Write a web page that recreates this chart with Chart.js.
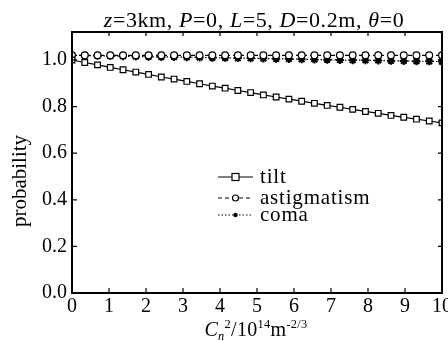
<!DOCTYPE html>
<html>
<head>
<meta charset="utf-8">
<script src="https://cdn.jsdelivr.net/npm/chart.js@4"></script>
<style>
  html, body { margin: 0; padding: 0; background: #fff; }
  #wrap { width: 448px; height: 341px; position: relative; }
</style>
</head>
<body>
<div id="wrap"><canvas id="c"></canvas></div>
<script>
// Cn^2 sample positions (10^-14 m^-2/3)
const xs = [0, 0.345, 0.69, 1.034, 1.379, 1.724, 2.069, 2.414, 2.759, 3.103,
    3.448, 3.793, 4.138, 4.483, 4.828, 5.172, 5.517, 5.862, 6.207, 6.552,
    6.897, 7.241, 7.586, 7.931, 8.276, 8.621, 8.966, 9.31, 9.655, 10];

const tilt = [1.000, 0.989, 0.979, 0.968, 0.958, 0.948, 0.938, 0.927, 0.918, 0.908,
    0.898, 0.888, 0.879, 0.869, 0.860, 0.850, 0.841, 0.832, 0.823, 0.814,
    0.805, 0.797, 0.788, 0.779, 0.771, 0.762, 0.754, 0.746, 0.738, 0.730];

const astigmatism = [1.020, 1.020, 1.020, 1.020, 1.020, 1.020, 1.020, 1.020, 1.020, 1.020,
    1.020, 1.020, 1.020, 1.020, 1.020, 1.020, 1.020, 1.020, 1.020, 1.020,
    1.020, 1.020, 1.020, 1.020, 1.020, 1.020, 1.020, 1.020, 1.020, 1.020];

const coma = [1.020, 1.019, 1.018, 1.017, 1.016, 1.015, 1.014, 1.013, 1.013, 1.012,
    1.011, 1.010, 1.009, 1.008, 1.007, 1.006, 1.005, 1.004, 1.003, 1.002,
    1.001, 1.000, 0.999, 0.999, 0.998, 0.997, 0.996, 0.995, 0.994, 0.993];

const xTicks = [0, 1, 2, 3, 4, 5, 6, 7, 8, 9, 10];
const yTicks = [0, 0.2, 0.4, 0.6, 0.8, 1.0];
const seriesNames = ['tilt', 'astigmatism', 'coma'];

const SERIF = "'Liberation Serif', 'DejaVu Serif', serif";
const pts = arr => arr.map((v, i) => ({ x: xs[i], y: v }));

// 제목, 축 제목, 안쪽 눈금, 범례를 직접 그림
const decor = {
    id: 'decor',
    afterDraw(chart) {
        const { ctx, chartArea: a, scales } = chart;
        ctx.save();
        ctx.fillStyle = '#000';
        ctx.strokeStyle = '#000';

        // frame
        ctx.lineWidth = 2;
        ctx.strokeRect(a.left, a.top, a.right - a.left, a.bottom - a.top);

        // inward ticks
        ctx.lineWidth = 1.2;
        ctx.beginPath();
        xTicks.forEach(v => {
            const px = scales.x.getPixelForValue(v);
            ctx.moveTo(px, a.bottom); ctx.lineTo(px, a.bottom - 5);
            ctx.moveTo(px, a.top); ctx.lineTo(px, a.top + 4);
        });
        yTicks.forEach(v => {
            const py = scales.y.getPixelForValue(v);
            ctx.moveTo(a.left, py); ctx.lineTo(a.left + 5, py);
            ctx.moveTo(a.right, py); ctx.lineTo(a.right - 4, py);
        });
        ctx.stroke();

        // mixed italic text runs
        const runs = (parts, size, cx, baseline, spacing) => {
            ctx.letterSpacing = spacing + 'px';
            let w = 0;
            parts.forEach(p => {
                const sz = p.s ? size * 0.62 : size;
                ctx.font = (p.i ? 'italic ' : '') + sz + 'px ' + SERIF;
                p.w = ctx.measureText(p.t).width;
                w += p.w;
            });
            let x = cx - w / 2;
            ctx.textAlign = 'left';
            ctx.textBaseline = 'alphabetic';
            parts.forEach(p => {
                const sz = p.s ? size * 0.62 : size;
                ctx.font = (p.i ? 'italic ' : '') + sz + 'px ' + SERIF;
                ctx.fillText(p.t, x, baseline + (p.s === 'up' ? -size * 0.42 : p.s === 'down' ? size * 0.2 : 0));
                x += p.w;
            });
            ctx.letterSpacing = '0px';
        };

        runs([
            { t: 'z', i: true }, { t: '=3km, ' }, { t: 'P', i: true }, { t: '=0, ' },
            { t: 'L', i: true }, { t: '=5, ' }, { t: 'D', i: true }, { t: '=0.2m, ' },
            { t: 'θ', i: true }, { t: '=0' }
        ], 22, 254, 27, 0.6);

        runs([
            { t: 'C', i: true }, { t: 'n', i: true, s: 'down' }, { t: '2', s: 'up' },
            { t: '/10' }, { t: '14', s: 'up' }, { t: 'm' }, { t: '-2/3', s: 'up' }
        ], 20, 256, 336, 0.3);

        // y title
        ctx.save();
        ctx.translate(20, 181);
        ctx.rotate(-Math.PI / 2);
        ctx.font = '21px ' + SERIF;
        ctx.textAlign = 'center';
        ctx.textBaseline = 'middle';
        ctx.fillText('probability', 0, 0);
        ctx.restore();

        // legend
        const rows = [177, 198, 215];
        chart.data.datasets.forEach((ds, i) => {
            const y = rows[i];
            ctx.lineWidth = 1.2;
            ctx.setLineDash(ds.borderDash || []);
            ctx.beginPath();
            ctx.moveTo(218, y); ctx.lineTo(253, y);
            ctx.stroke();
            ctx.setLineDash([]);
            ctx.fillStyle = '#fff';
            if (ds.pointStyle === 'rect') {
                ctx.fillRect(232, y - 3.5, 7, 7);
                ctx.strokeRect(232, y - 3.5, 7, 7);
            } else if (ds.pointStyle === 'circle') {
                ctx.beginPath(); ctx.arc(235.5, y, 3, 0, Math.PI * 2); ctx.fill(); ctx.stroke();
            } else {
                ctx.fillStyle = '#000';
                ctx.beginPath(); ctx.arc(235.5, y, 2.2, 0, Math.PI * 2); ctx.fill();
            }
            ctx.fillStyle = '#000';
            ctx.font = '21px ' + SERIF;
            ctx.letterSpacing = '0.8px';
            ctx.textAlign = 'left';
            ctx.textBaseline = 'middle';
            ctx.fillText(seriesNames[i], 260, y);
            ctx.letterSpacing = '0px';
        });
        ctx.restore();
    }
};

new Chart(document.getElementById('c'), {
    type: 'line',
    data: {
        datasets: [{
            label: seriesNames[0],
            data: pts(tilt),
            borderColor: '#000',
            borderWidth: 1.2,
            pointStyle: 'rect',
            pointRadius: 4,
            pointBackgroundColor: '#fff',
            pointBorderColor: '#000',
            pointBorderWidth: 1.2
        }, {
            label: seriesNames[1],
            data: pts(astigmatism),
            borderColor: '#000',
            borderWidth: 1.2,
            borderDash: [4, 3],
            pointStyle: 'circle',
            pointRadius: 3.4,
            pointBackgroundColor: '#fff',
            pointBorderColor: '#000',
            pointBorderWidth: 1.2
        }, {
            label: seriesNames[2],
            data: pts(coma),
            borderColor: '#000',
            borderWidth: 1.2,
            borderDash: [1.5, 2],
            pointStyle: 'star',
            pointRadius: 4,
            pointBackgroundColor: '#000',
            pointBorderColor: '#000',
            pointBorderWidth: 2
        }]
    },
    options: {
        responsive: true,
        maintainAspectRatio: false,
        animation: false,
        layout: { padding: { left: 0, top: 32, right: 6, bottom: 0 } },
        scales: {
            x: {
                type: 'linear',
                min: 0, max: 10,
                grid: { display: false, drawTicks: false },
                border: { display: false },
                ticks: { stepSize: 1, padding: 2, color: '#000', font: { family: SERIF, size: 20 }, maxRotation: 0 },
                afterFit: s => { s.height = 48; s.paddingLeft = 0; s.paddingRight = 0; }
            },
            y: {
                min: 0, max: 1.12,
                grid: { display: false, drawTicks: false },
                border: { display: false },
                ticks: { stepSize: 0.2, includeBounds: false, padding: 5, color: '#000',
                    font: { family: SERIF, size: 20 }, callback: v => v.toFixed(1) },
                afterFit: s => { s.width = 72; s.paddingTop = 0; s.paddingBottom = 0; }
            }
        },
        plugins: { legend: { display: false }, tooltip: { enabled: false } }
    },
    plugins: [decor]
});
</script>
</body>
</html>
